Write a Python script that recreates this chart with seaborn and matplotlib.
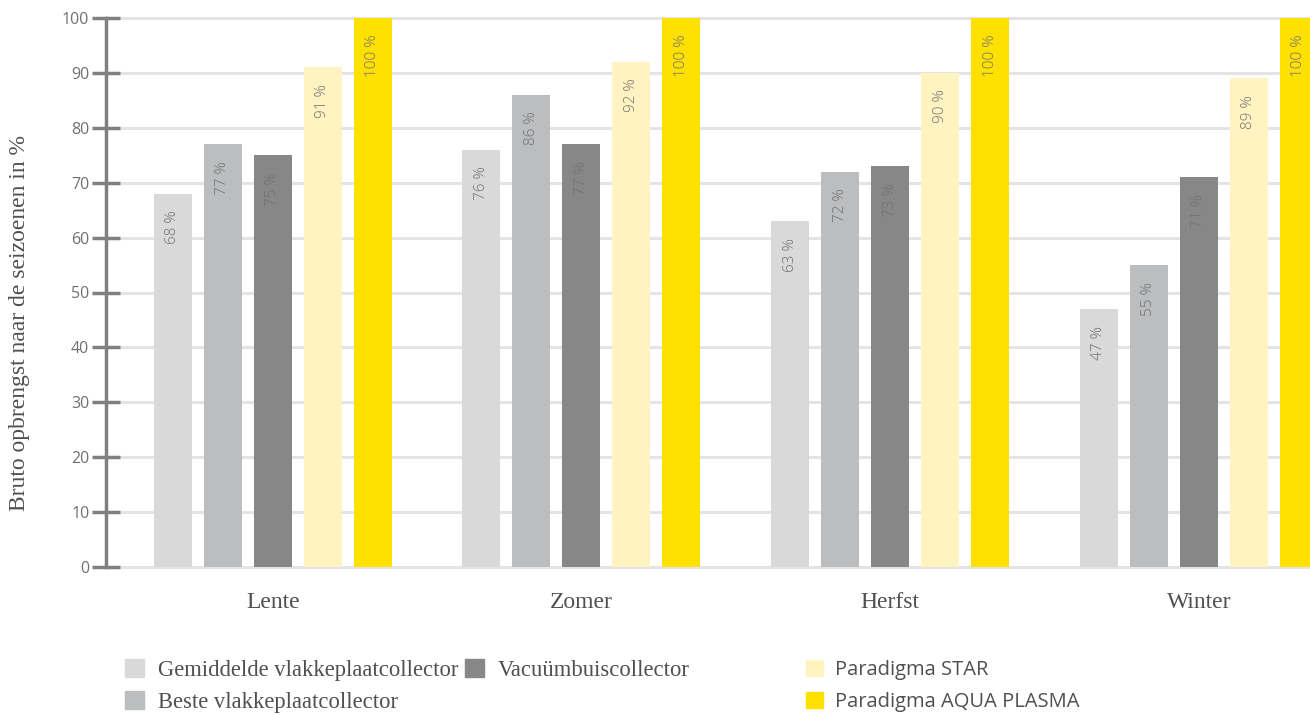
import pandas as pd
import matplotlib.pyplot as plt
import seaborn as sns
from matplotlib.patches import Patch

seasons = ["Lente", "Zomer", "Herfst", "Winter"]
collectors = ["Gemiddelde vlakkeplaatcollector", "Beste vlakkeplaatcollector",
              "Vacuümbuiscollector", "Paradigma STAR", "Paradigma AQUA PLASMA"]
gemiddelde = [68, 76, 63, 47]
beste = [77, 86, 72, 55]
vacuum = [75, 77, 73, 71]
star = [91, 92, 90, 89]
aqua = [100, 100, 100, 100]
colors = ["#d9d9d9", "#bcbdbf", "#878787", "#fff3c2", "#ffe100"]

rows = []
for name, vals in zip(collectors, [gemiddelde, beste, vacuum, star, aqua]):
    for s, v in zip(seasons, vals):
        rows.append({"seizoen": s, "collector": name, "waarde": v})
df = pd.DataFrame(rows)

sns.set_style("white")
serif = ["Liberation Serif", "DejaVu Serif"]
sans = ["Open Sans", "DejaVu Sans"]
plt.rcParams["font.family"] = sans
txt = "#707070"
dark = "#505050"

fig = plt.figure(figsize=(13.1, 7.15), dpi=100)
ax = fig.add_axes([106 / 1310, (715 - 567) / 715, 1 - 106 / 1310, (567 - 18) / 715])

sns.barplot(data=df, x="seizoen", y="waarde", hue="collector", hue_order=collectors,
            palette=colors, width=0.81, gap=0.24, saturation=1, linewidth=0,
            ax=ax, legend=False)

for cont in ax.containers:
    for bar in cont:
        h = bar.get_height()
        ax.annotate(f"{h:.0f} %", (bar.get_x() + bar.get_width() / 2, h),
                    xytext=(0, -12), textcoords="offset points", rotation=90,
                    ha="center", va="top", fontsize=11, color=txt, family=sans,
                    fontweight="light")

ax.set_ylim(0, 100)
ax.set_xlim(-0.54, 3.36)
ax.set_yticks(range(0, 101, 10))
ax.yaxis.grid(True, color="#e4e4e4", linewidth=2.2)
ax.set_axisbelow(True)
for g in ax.get_ygridlines():
    g.set_clip_on(False)
for sp in ["top", "right", "bottom"]:
    ax.spines[sp].set_visible(False)
ax.spines["left"].set_color("#808080")
ax.spines["left"].set_linewidth(2.5)
ax.tick_params(axis="y", left=True, direction="inout", length=20, width=2.5,
               color="#808080", labelsize=11.5, labelcolor=txt, pad=2)
ax.tick_params(axis="x", length=0, pad=18)
for lab in ax.get_xticklabels():
    lab.set_family(serif)
    lab.set_fontsize(17)
    lab.set_color(dark)
ax.set_xlabel("")
ax.set_ylabel("Bruto opbrengst naar de seizoenen in %", family=serif, fontsize=17,
              color=dark)
ax.yaxis.set_label_coords(-0.063, 0.444)

def legend(items, x, y, fam, size, spacing):
    handles = [Patch(color=colors[i], label=collectors[i]) for i in items]
    lg = fig.legend(handles=handles, loc="upper left", bbox_to_anchor=(x, y),
                    frameon=False, handlelength=0.85, handleheight=0.85,
                    handletextpad=0.6, labelspacing=spacing, borderaxespad=0,
                    borderpad=0, prop={"family": fam, "size": size})
    for t in lg.get_texts():
        t.set_color(dark)
    return lg

legend([0, 1], 125 / 1310, 1 - 659 / 715, serif, 16.3, 0.45)
legend([2], 465 / 1310, 1 - 659 / 715, serif, 16.3, 0.45)
legend([3, 4], 806 / 1310, 1 - 660 / 715, sans, 14.5, 0.6)

fig.savefig("out.png", dpi=100)
